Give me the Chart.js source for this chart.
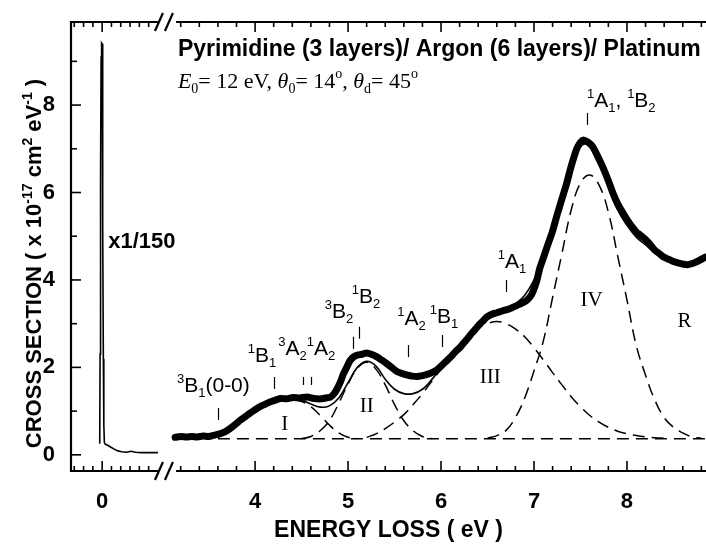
<!DOCTYPE html>
<html>
<head>
<meta charset="utf-8">
<script src="https://cdn.jsdelivr.net/npm/chart.js@4"></script>
<style>
  html, body { margin: 0; padding: 0; background: #fff; }
</style>
</head>
<body>
<canvas id="chart" width="706" height="547"></canvas>
<script>
// elastic peak (left of the axis break), scaled x1/150
const elasticE = [-0.032, -0.026, -0.022, -0.019, -0.015, -0.011, -0.006, 0.0, 0.004, 0.008, 0.013, 0.018, 0.024, 0.035, 0.06, 0.09, 0.13, 0.17, 0.21, 0.26, 0.31, 0.36, 0.42, 0.5, 0.6];
const elasticY = [0.27, 0.30, 2.3, 2.5, 6.5, 9.1, 9.42, 9.40, 8.4, 5.2, 2.2, 0.7, 0.28, 0.24, 0.22, 0.18, 0.13, 0.09, 0.07, 0.06, 0.08, 0.06, 0.05, 0.05, 0.05];

// measured loss spectrum
const specE = [3.14, 3.2, 3.26, 3.32, 3.38, 3.44, 3.5, 3.56, 3.62, 3.68, 3.73, 3.79, 3.84, 3.9, 3.95, 4.0, 4.05, 4.1, 4.16, 4.22, 4.27, 4.34, 4.41, 4.48, 4.56, 4.63, 4.70, 4.76, 4.81, 4.85, 4.88, 4.92, 4.95, 4.99, 5.02, 5.06, 5.10, 5.15, 5.20, 5.25, 5.31, 5.36, 5.42, 5.48, 5.53, 5.58, 5.63, 5.69, 5.74, 5.80, 5.85, 5.90, 5.96, 6.01, 6.06, 6.11, 6.15, 6.20, 6.24, 6.29, 6.33, 6.38, 6.42, 6.46, 6.49, 6.55, 6.6, 6.66, 6.71, 6.77, 6.82, 6.87, 6.92, 6.96, 6.99, 7.03, 7.06, 7.10, 7.14, 7.2, 7.25, 7.3, 7.35, 7.4, 7.46, 7.5, 7.53, 7.58, 7.63, 7.68, 7.74, 7.8, 7.85, 7.9, 7.96, 8.01, 8.06, 8.1, 8.14, 8.18, 8.22, 8.26, 8.30, 8.35, 8.39, 8.44, 8.48, 8.53, 8.57, 8.61, 8.65, 8.71, 8.78, 8.84];
const specY = [0.40, 0.42, 0.41, 0.42, 0.41, 0.43, 0.42, 0.45, 0.48, 0.53, 0.60, 0.70, 0.79, 0.88, 0.96, 1.03, 1.10, 1.15, 1.21, 1.25, 1.29, 1.28, 1.31, 1.30, 1.32, 1.29, 1.28, 1.30, 1.32, 1.40, 1.50, 1.68, 1.85, 2.02, 2.15, 2.24, 2.28, 2.30, 2.33, 2.30, 2.24, 2.17, 2.08, 1.98, 1.90, 1.86, 1.83, 1.80, 1.79, 1.81, 1.84, 1.88, 1.95, 2.05, 2.15, 2.25, 2.35, 2.45, 2.55, 2.67, 2.78, 2.90, 3.00, 3.08, 3.15, 3.22, 3.25, 3.29, 3.32, 3.37, 3.42, 3.47, 3.53, 3.62, 3.74, 3.98, 4.25, 4.50, 4.75, 5.12, 5.50, 5.85, 6.20, 6.60, 7.00, 7.15, 7.20, 7.15, 7.05, 6.85, 6.58, 6.27, 5.98, 5.74, 5.52, 5.35, 5.20, 5.10, 5.03, 4.96, 4.88, 4.78, 4.68, 4.60, 4.53, 4.48, 4.44, 4.40, 4.38, 4.36, 4.35, 4.38, 4.45, 4.52];

// sum of the fitted bands
const fitE = [3.5, 3.6, 3.7, 3.8, 3.9, 4.0, 4.1, 4.2, 4.3, 4.4, 4.5, 4.6, 4.7, 4.8, 4.9, 5.0, 5.1, 5.2, 5.3, 5.4, 5.5, 5.6, 5.7, 5.8, 5.9, 6.0, 6.1, 6.2, 6.3, 6.4, 6.5, 6.6, 6.7, 6.8, 6.9, 7.0, 7.1, 7.2, 7.3, 7.4, 7.5, 7.6, 7.7, 7.8, 7.9, 8.0, 8.1, 8.2, 8.3, 8.4, 8.5, 8.6, 8.7, 8.8];
const fitY = [0.40, 0.45, 0.56, 0.71, 0.87, 1.01, 1.13, 1.21, 1.26, 1.27, 1.25, 1.16, 1.09, 1.12, 1.30, 1.65, 2.00, 2.14, 2.03, 1.73, 1.50, 1.40, 1.40, 1.50, 1.72, 1.98, 2.25, 2.50, 2.74, 2.95, 3.10, 3.20, 3.30, 3.45, 3.65, 4.00, 4.45, 5.10, 5.85, 6.60, 7.05, 7.10, 6.75, 6.15, 5.60, 5.25, 4.98, 4.80, 4.62, 4.50, 4.42, 4.38, 4.40, 4.45];

// fitted bands I - IV and the flat background
const bandIE = [3.5, 3.6, 3.7, 3.8, 3.9, 4.0, 4.1, 4.2, 4.3, 4.4, 4.5, 4.6, 4.7, 4.8, 4.9, 5.0, 5.1];
const bandIY = [0.40, 0.45, 0.55, 0.70, 0.86, 1.00, 1.12, 1.20, 1.25, 1.26, 1.22, 1.10, 0.90, 0.68, 0.50, 0.40, 0.37];
const bandIIE = [4.5, 4.6, 4.7, 4.8, 4.9, 5.0, 5.1, 5.2, 5.3, 5.4, 5.5, 5.6, 5.7, 5.8, 5.9];
const bandIIY = [0.37, 0.42, 0.55, 0.78, 1.18, 1.62, 1.98, 2.12, 1.96, 1.60, 1.15, 0.78, 0.55, 0.42, 0.37];
const bandIIIE = [5.2, 5.3, 5.4, 5.5, 5.6, 5.7, 5.8, 5.9, 6.0, 6.1, 6.2, 6.3, 6.4, 6.5, 6.6, 6.7, 6.8, 6.9, 7.0, 7.1, 7.2, 7.3, 7.4, 7.5, 7.6, 7.7, 7.8, 7.9, 8.0, 8.1, 8.2, 8.3, 8.4];
const bandIIIY = [0.40, 0.48, 0.60, 0.75, 0.92, 1.15, 1.40, 1.68, 1.96, 2.24, 2.50, 2.72, 2.90, 3.00, 3.05, 3.00, 2.88, 2.70, 2.45, 2.17, 1.88, 1.60, 1.33, 1.10, 0.90, 0.75, 0.63, 0.54, 0.48, 0.44, 0.41, 0.39, 0.38];
const bandIVE = [6.5, 6.6, 6.7, 6.8, 6.9, 7.0, 7.1, 7.2, 7.3, 7.4, 7.5, 7.6, 7.7, 7.8, 7.9, 8.0, 8.1, 8.2, 8.3, 8.4, 8.5, 8.6, 8.7, 8.8];
const bandIVY = [0.38, 0.44, 0.56, 0.85, 1.30, 1.92, 2.60, 3.60, 4.60, 5.60, 6.22, 6.40, 6.17, 5.55, 4.55, 3.54, 2.50, 1.82, 1.25, 0.85, 0.63, 0.50, 0.41, 0.38];
const backE = [3.6, 8.85];
const backY = [0.37, 0.37];

// axes
const xTicks = [4, 5, 6, 7, 8];
const yTicks = [0, 2, 4, 6, 8];

// state assignments and where their bars sit (eV)
const stateNames = ['^3B_1(0-0)', '^1B_1', '^3A_2^1A_2', '^3B_2', '^1B_2', '^1A_2', '^1B_1', '^1A_1', '^1A_1, ^1B_2'];
const stateMarks = [3.60, 4.20, 4.51, 4.60, 5.05, 5.12, 5.65, 6.01, 6.70, 7.57];
const bandNames = ['I', 'II', 'III', 'IV', 'R'];

// the x axis is broken: both halves share the same eV/pixel ratio
const SPAN = 6.83;
const LEFT_MIN = -0.335, RIGHT_MIN = 2.02;
const ZERO_TICK = RIGHT_MIN - LEFT_MIN;
const LEFT_END = 0.6, RIGHT_START = 3.15;

const SANS = "'Liberation Sans', Arial, sans-serif";
const SERIF = "'Liberation Serif', 'Times New Roman', serif";

const pts = (xs, ys) => xs.map((x, i) => ({ x, y: ys[i] }));

// tiny markup: ^x / ^{..} superscript, _x / _{..} subscript, *..* italic
function parseRich(str) {
  const out = [];
  let i = 0, italic = false;
  while (i < str.length) {
    const c = str[i];
    if (c === '*') { italic = !italic; i++; continue; }
    if (c === '^' || c === '_') {
      let t;
      if (str[i + 1] === '{') { const j = str.indexOf('}', i); t = str.slice(i + 2, j); i = j + 1; }
      else { t = str[i + 1]; i += 2; }
      out.push({ t, shift: c === '^' ? 'sup' : 'sub', italic });
      continue;
    }
    let j = i;
    while (j < str.length && !'*^_'.includes(str[j])) j++;
    out.push({ t: str.slice(i, j), shift: null, italic });
    i = j;
  }
  return out;
}

function drawRich(ctx, str, x, y, o) {
  const runs = parseRich(str);
  const small = Math.round(o.size * 0.62);
  const font = r => (r.italic ? 'italic ' : '') + (o.weight || 'normal') + ' ' + (r.shift ? small : o.size) + 'px ' + o.family;
  let w = 0;
  runs.forEach(r => { ctx.font = font(r); r.w = ctx.measureText(r.t).width; w += r.w; });
  let cx = o.align === 'center' ? x - w / 2 : (o.align === 'right' ? x - w : x);
  ctx.textAlign = 'left';
  ctx.textBaseline = 'alphabetic';
  runs.forEach(r => {
    ctx.font = font(r);
    const dy = r.shift === 'sup' ? -o.size * 0.42 : (r.shift === 'sub' ? o.size * 0.24 : 0);
    ctx.fillText(r.t, cx, y + dy);
    cx += r.w;
  });
}

// frame, inward ticks, axis break and all the text inside the plot
const framePlugin = {
  id: 'frame',
  afterDraw(chart) {
    const ctx = chart.ctx;
    const ca = chart.chartArea;
    const xs = chart.scales.x, xl = chart.scales.xLeft, ys = chart.scales.y;
    const gapL = xl.getPixelForValue(LEFT_END);
    const gapR = xs.getPixelForValue(RIGHT_START);

    ctx.save();
    ctx.strokeStyle = '#000';
    ctx.fillStyle = '#000';
    ctx.lineWidth = 2.2;
    ctx.lineCap = 'butt';
    const line = (x1, y1, x2, y2) => { ctx.beginPath(); ctx.moveTo(x1, y1); ctx.lineTo(x2, y2); ctx.stroke(); };

    line(ca.left, ca.top - 1, ca.left, ca.bottom + 1);
    [ca.top, ca.bottom].forEach(y => {
      line(ca.left, y, gapL, y);
      line(gapR, y, ca.right, y);
      line(gapL - 3, y + 9, gapL + 5, y - 9);
      line(gapL + 7, y + 9, gapL + 15, y - 9);
    });

    // x ticks, top and bottom
    ctx.lineWidth = 1.6;
    const xTick = (px, major) => {
      const len = major ? 10 : 5;
      line(px, ca.bottom, px, ca.bottom - len);
      line(px, ca.top, px, ca.top + len);
    };
    for (let k = -3; k <= 5; k++) xTick(xl.getPixelForValue(k / 10), k === 0);
    for (let k = 16; k <= 44; k++) xTick(xs.getPixelForValue(k / 5), k % 5 === 0);
    // y ticks
    for (let k = 0; k <= 9; k++) {
      const py = ys.getPixelForValue(k);
      line(ca.left, py, ca.left + (k % 2 === 0 ? 10 : 6), py);
    }

    // y title
    ctx.save();
    ctx.translate(33, (ca.top + ca.bottom) / 2 + 17);
    ctx.rotate(-Math.PI / 2);
    drawRich(ctx, 'CROSS SECTION ( x 10^{-17} cm^2 eV^{-1} )', 0, 8, { size: 22, weight: 'bold', family: SANS, align: 'center' });
    ctx.restore();

    const X = v => xs.getPixelForValue(v);
    const Y = v => ys.getPixelForValue(v);

    // headings
    drawRich(ctx, 'Pyrimidine (3 layers)/ Argon (6 layers)/ Platinum', X(3.17), Y(9.12), { size: 23, weight: 'bold', family: SANS });
    drawRich(ctx, '*E*_0= 12 eV, *\u03b8*_0= 14^o, *\u03b8*_d= 45^o', X(3.17), Y(8.4), { size: 22, family: SERIF });
    drawRich(ctx, 'x1/150', xl.getPixelForValue(0.065), Y(4.73), { size: 22, weight: 'bold', family: SANS });

    // state labels and their bars
    const namePos = [[3.16, 1.44], [3.92, 2.13], [4.25, 2.29], [4.75, 3.13], [5.04, 3.47], [5.53, 2.97], [5.88, 3.02], [6.61, 4.27], [7.57, 7.95]];
    stateNames.forEach((s, i) => drawRich(ctx, s, X(namePos[i][0]), Y(namePos[i][1]), { size: 21, family: SANS }));
    const markTop = [1.07, 1.78, 1.78, 1.78, 2.70, 2.93, 2.51, 2.74, 4.0, 7.82];
    const markLen = [12, 12, 8, 8, 12, 12, 12, 12, 12, 12];
    ctx.lineWidth = 1.2;
    stateMarks.forEach((e, i) => {
      const px = Math.round(X(e)) + 0.5, py = Y(markTop[i]);
      line(px, py, px, py + markLen[i]);
    });

    // band names
    const bandPos = [[4.32, 0.69], [5.20, 1.10], [6.53, 1.78], [7.62, 3.54], [8.62, 3.04]];
    ctx.font = '21px ' + SERIF;
    ctx.textAlign = 'center';
    ctx.textBaseline = 'middle';
    bandNames.forEach((s, i) => ctx.fillText(s, X(bandPos[i][0]), Y(bandPos[i][1])));
    ctx.restore();
  }
};

const dashed = { borderColor: '#000', borderWidth: 1.5, borderDash: [12, 7], pointRadius: 0, tension: 0.4, fill: false };

new Chart(document.getElementById('chart'), {
  type: 'line',
  data: {
    datasets: [
      { data: pts(specE, specY), borderColor: '#000', borderWidth: 7, pointRadius: 0, tension: 0.25, borderJoinStyle: 'round', borderCapStyle: 'round' },
      { data: pts(fitE, fitY), borderColor: '#000', borderWidth: 1.6, pointRadius: 0, tension: 0.4 },
      Object.assign({ data: pts(bandIE, bandIY) }, dashed),
      Object.assign({ data: pts(bandIIE, bandIIY) }, dashed),
      Object.assign({ data: pts(bandIIIE, bandIIIY) }, dashed),
      Object.assign({ data: pts(bandIVE, bandIVY) }, dashed),
      Object.assign({ data: pts(backE, backY) }, dashed, { tension: 0 }),
      { data: pts(elasticE, elasticY), xAxisID: 'xLeft', borderColor: '#000', borderWidth: 1.6, pointRadius: 0, tension: 0 }
    ]
  },
  options: {
    responsive: false,
    animation: false,
    devicePixelRatio: 1,
    events: [],
    layout: { padding: { top: 22, right: 0, left: 0, bottom: 0 } },
    plugins: { legend: { display: false }, tooltip: { enabled: false } },
    scales: {
      x: {
        type: 'linear', position: 'bottom',
        min: RIGHT_MIN, max: RIGHT_MIN + SPAN,
        afterFit: s => { s.height = 76; },
        afterBuildTicks: s => { s.ticks = [ZERO_TICK].concat(xTicks).map(v => ({ value: v })); },
        grid: { display: false },
        border: { display: false },
        ticks: {
          autoSkip: false, maxRotation: 0, padding: 10, color: '#000',
          font: { family: SANS, size: 22, weight: 'bold' },
          callback: v => (v === ZERO_TICK ? '0' : String(v))
        },
        title: { display: true, text: 'ENERGY LOSS ( eV )', color: '#000', font: { family: SANS, size: 23, weight: 'bold' }, padding: { top: 0, bottom: 3 } }
      },
      xLeft: { type: 'linear', display: false, min: LEFT_MIN, max: LEFT_MIN + SPAN },
      y: {
        min: -0.37, max: 9.9,
        afterFit: s => { s.width = 71; },
        afterBuildTicks: s => { s.ticks = yTicks.map(v => ({ value: v })); },
        grid: { display: false },
        border: { display: false },
        ticks: { padding: 8, color: '#000', font: { family: SANS, size: 22, weight: 'bold' } }
      }
    }
  },
  plugins: [framePlugin]
});
</script>
</body>
</html>
